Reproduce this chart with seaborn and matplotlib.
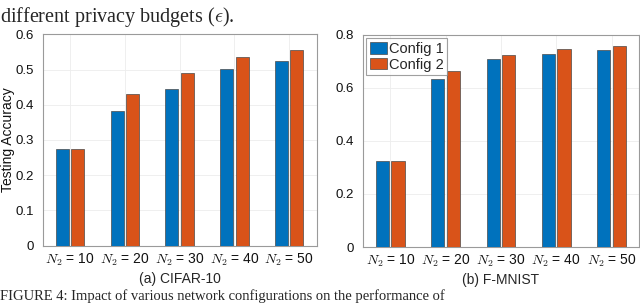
# Grouped bar chart: testing accuracy per N2 setting for two configs
import seaborn as sns
import pandas as pd
import matplotlib.pyplot as plt

# Data
n2_values = [10, 20, 30, 40, 50]
configs = ['Config 1', 'Config 2']
cifar_cfg1 = [0.273, 0.383, 0.446, 0.501, 0.523]
cifar_cfg2 = [0.273, 0.431, 0.491, 0.537, 0.555]
fmnist_cfg1 = [0.323, 0.634, 0.707, 0.727, 0.742]
fmnist_cfg2 = [0.323, 0.662, 0.724, 0.745, 0.756]
cifar_yticks = [0, 0.1, 0.2, 0.3, 0.4, 0.5, 0.6]
fmnist_yticks = [0, 0.2, 0.4, 0.6, 0.8]

sns.set_style('white')
plt.rcParams['font.family'] = ['Liberation Sans', 'DejaVu Sans']
plt.rcParams['mathtext.fontset'] = 'cm'

colors = ['#0072BD', '#D95319']
tick_labels = [f'$N_2$ = {n}' for n in n2_values]


def make_frame(cfg1, cfg2):
    rows = []
    for label, vals in zip(configs, [cfg1, cfg2]):
        for n, v in zip(tick_labels, vals):
            rows.append({'N2': n, 'acc': v, 'config': label})
    return pd.DataFrame(rows)


def draw_panel(ax, df, yticks, title, legend):
    sns.barplot(data=df, x='N2', y='acc', hue='config', palette=colors,
                saturation=1, width=0.56, gap=0.15, edgecolor='#4a4a4a',
                linewidth=0.5, ax=ax, legend=legend, zorder=3)
    ax.set_xlim(-0.5, 4.5)
    ax.set_ylim(yticks[0], yticks[-1])
    ax.set_yticks(yticks)
    ax.set_yticklabels(['0' if t == 0 else f'{t:g}' for t in yticks])
    ax.set_xlabel(title, fontsize=10, labelpad=3)
    ax.set_ylabel('')
    ax.grid(True, color='#ededed', linewidth=0.6, zorder=0)
    ax.set_axisbelow(True)
    for s in ax.spines.values():
        s.set_color('#9a9a9a')
        s.set_linewidth(0.8)
    ax.tick_params(axis='y', length=0, pad=6, labelsize=9.5, labelcolor='#111111')
    ax.tick_params(axis='x', length=0, pad=4, labelsize=10, labelcolor='#111111')


fig = plt.figure(figsize=(6.4, 3.04), dpi=100)
ax1 = fig.add_axes([0.0667, 0.192, 0.428, 0.695])
ax2 = fig.add_axes([0.5667, 0.1875, 0.432, 0.698])

draw_panel(ax1, make_frame(cifar_cfg1, cifar_cfg2), cifar_yticks, '(a) CIFAR-10', False)
draw_panel(ax2, make_frame(fmnist_cfg1, fmnist_cfg2), fmnist_yticks, '(b) F-MNIST', True)

# y label placed in figure coords so it stays inside the picture
fig.text(0.002, 0.54, 'Testing Accuracy', fontsize=10, rotation=90,
         ha='left', va='center', color='#111111')

leg = ax2.legend(loc='upper left', fontsize=10.5, frameon=True, fancybox=False,
                 edgecolor='#888888', handlelength=1.2, handleheight=0.8,
                 handletextpad=0.1, borderpad=0.25, labelspacing=0.1,
                 borderaxespad=0.25)
leg.get_frame().set_linewidth(0.8)

# Caption fragments around the figure
fig.text(0.0, 0.985, 'different privacy budgets ($\\epsilon$).', fontsize=14.5,
         family=['Liberation Serif', 'DejaVu Serif'], va='top', ha='left')
fig.text(0.0, 0.002, 'FIGURE 4: Impact of various network configurations on the performance of',
         fontsize=10.5, family=['Liberation Serif', 'DejaVu Serif'], va='bottom', ha='left')

fig.savefig('out.png', dpi=100)
